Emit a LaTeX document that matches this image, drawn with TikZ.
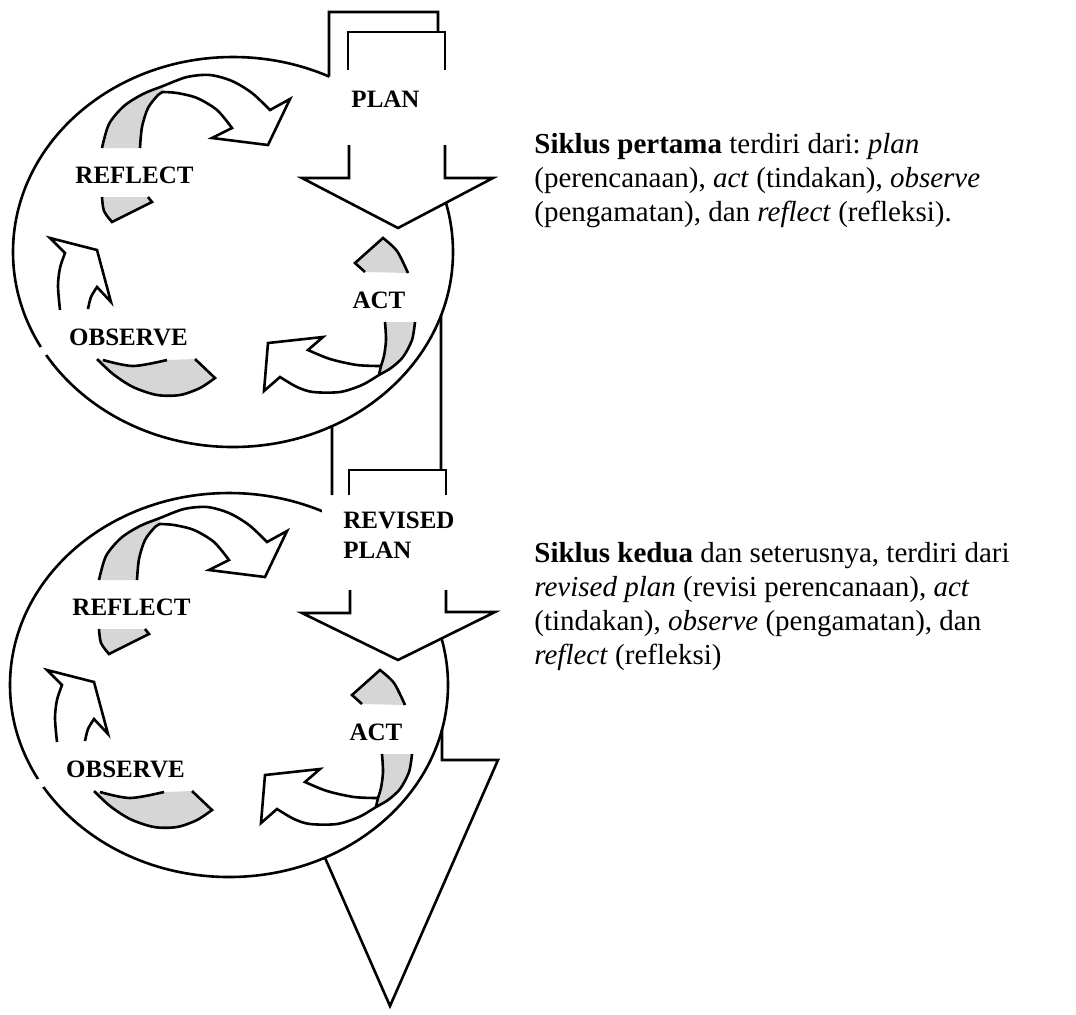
\documentclass[tikz,border=0pt]{standalone}
\usepackage{fontspec}
\setmainfont{Liberation Serif}
\usetikzlibrary{intersections}
\frenchspacing
\tikzset{
  ln/.style={line width=1.3pt, line join=miter},
  shadefill/.style={fill=black!16},
  lbl/.style={anchor=base, inner sep=0pt, font=\fontsize{12.5}{15}\selectfont\bfseries},
  txt/.style={anchor=base west, inner sep=0pt, font=\fontsize{14.5}{17}\selectfont},
}
\newcommand{\cycleinner}[1]{%
  % reflect -> plan ribbon
  \fill[shadefill] plot[smooth] coordinates {(102,148)(109,124)(124,106)(143,94)(163,86)} -- plot[smooth] coordinates {(163,92)(158,95)(148,108)(142,127)(140,148)} -- cycle;
  \draw[ln] plot[smooth] coordinates {(102,148)(109,124)(124,106)(143,94)(163,86)(187,77)(210,75)(232,81)(252,93)(270,110)} -- (290,99) -- (268,145) -- (212,138) -- (232,128) -- plot[smooth] coordinates {(232,128)(217,110)(197,98)(177,93)(163,92)} -- plot[smooth] coordinates {(163,92)(158,95)(148,108)(142,127)(140,148)};
  \fill[shadefill] plot[smooth] coordinates {(102,197)(104,211)(112,222)} -- (152,202) -- (148,197) -- cycle;
  \draw[ln] plot[smooth] coordinates {(102,197)(104,211)(112,222)} -- (152,202) -- (148,197);
  % observe -> reflect arrow
  \draw[ln] plot[smooth] coordinates {(60,310)(58,286)(60,268)(65,253)} -- (50,238) -- (97,250) -- (111,302) -- (97,287) -- plot[smooth] coordinates {(97,287)(91,297)(88,309)};
  % observe tail
  \fill[shadefill] plot[smooth] coordinates {(97,359)(113,374)(133,387)(157,395)(180,395)(200,388)(215,378)} -- (195,359) -- (167,360) -- plot[smooth] coordinates {(167,360)(133,366)(103,360)} -- cycle;
  \draw[ln] plot[smooth] coordinates {(97,359)(113,374)(133,387)(157,395)(180,395)(200,388)(215,378)} -- (195,359);
  \draw[ln] plot[smooth] coordinates {(167,360)(133,366)(103,360)};
  % act -> observe ribbon
  \fill[shadefill] plot[smooth] coordinates {(415,322)(412,340)(403,357)(391,368)(379,375)} -- plot[smooth] coordinates {(379,375)(381,366)(384,356)(386,340)(385,322)} -- cycle;
  \draw[ln] plot[smooth] coordinates {(415,322)(412,340)(403,357)(391,368)(379,375)(362,385)(340,392)(313,392)(297,387)(280,377)} -- (264,391) -- (268,343) -- (323,337) -- (308,350) -- plot[smooth] coordinates {(308,350)(330,359)(357,365)(381,366)};
  \draw[ln] plot[smooth] coordinates {(379,375)(381,366)(384,356)(386,340)(385,322)};
  \fill[shadefill] (365,272) -- (355,263) -- (383,238) -- plot[smooth] coordinates {(383,238)(397,251)(408,273)} -- cycle;
  \draw[ln] (365,272) -- (355,263) -- (383,238) -- plot[smooth] coordinates {(383,238)(397,251)(408,273)};
  % labels
  \node[lbl] (reflect#1) at (134.5,183) {REFLECT};
  \node[lbl] (observe#1) at (128.5,345) {OBSERVE};
  \node[lbl] (act#1) at (379,308) {ACT};
}
\begin{document}
\begin{tikzpicture}[x=0.5pt,y=-0.5pt]
\useasboundingbox (0,0) rectangle (1076,1014);
% ellipses
\draw[ln, name path=E1] (233,252) ellipse [x radius=220, y radius=195];
\draw[ln, name path=E2] (229,685) ellipse [x radius=219, y radius=192];
\fill[white] (43.5,351) circle (5);
\fill[white] (40.7,783) circle (5);
% white areas of the plan arrows
\fill[white] (329,12) -- (438,12) -- (438,32) -- (445,32) -- (445,178) -- (493,178) -- (398,228) -- (302,178) -- (349,178) -- (349,95) -- (329,95) -- cycle;
\fill[white] (322,480) -- (446,480) -- (446,612) -- (495,612) -- (398,660) -- (302,613) -- (350,613) -- (350,560) -- (322,560) -- cycle;
% intersection points
\path[name path=L1] (329,0) -- (329,150);
\path[name intersections={of=E1 and L1, by={p1}}];
\path[name path=L2] (441,260) -- (441,470);
\path[name intersections={of=E1 and L2, by={p2}}];
\path[name path=L3] (332,350) -- (332,495);
\path[name intersections={of=E1 and L3, by={p3}}];
\path[name path=L4] (442,690) -- (442,770);
\path[name intersections={of=E2 and L4, by={p4}}];
\path[name path=L5] (390,1006) -- (315,835);
\path[name intersections={of=E2 and L5, by={p5}}];
% plan arrow (cycle 1)
\draw[ln] (p1) -- (329,12) -- (438,12) -- (438,32);
\draw[ln] (348,70) -- (348,32) -- (445,32) -- (445,70);
\draw[ln] (349,145) -- (349,178) -- (302,178) -- (398,228) -- (493,178) -- (445,178) -- (445,145);
% connection to cycle 2
\draw[ln] (p3) -- (332,495);
\draw[ln] (p2) -- (441,470);
\draw[ln] (349,495) -- (349,470) -- (446,470) -- (446,495);
\draw[ln] (350,590) -- (350,613) -- (302,613) -- (398,660) -- (495,612) -- (446,612) -- (446,590);
% final arrow
\draw[ln] (p4) -- (442,760) -- (498,760) -- (390,1006) -- (p5);
% interiors
\cycleinner{1}
\begin{scope}[shift={(-3,432)}]
\cycleinner{2}
\end{scope}
\node[lbl] (plan) at (385.5,107) {PLAN};
\node[lbl, anchor=north west, align=left] (rplan) at (343,512) {REVISED\\PLAN};
% texts
\node[txt] (t11) at (534,153) {\textbf{Siklus pertama} terdiri dari: \textit{plan}};
\node[txt] (t12) at (534,187) {(perencanaan), \textit{act} (tindakan), \textit{observe}};
\node[txt] (t13) at (534,221) {(pengamatan), dan \textit{reflect} (refleksi).};
\node[txt] (t21) at (534,562) {\textbf{Siklus kedua} dan seterusnya, terdiri dari};
\node[txt] (t22) at (534,596) {\textit{revised plan} (revisi perencanaan), \textit{act}};
\node[txt] (t23) at (534,630) {(tindakan), \textit{observe} (pengamatan), dan};
\node[txt] (t24) at (534,664) {\textit{reflect} (refleksi)};
\end{tikzpicture}
\end{document}
